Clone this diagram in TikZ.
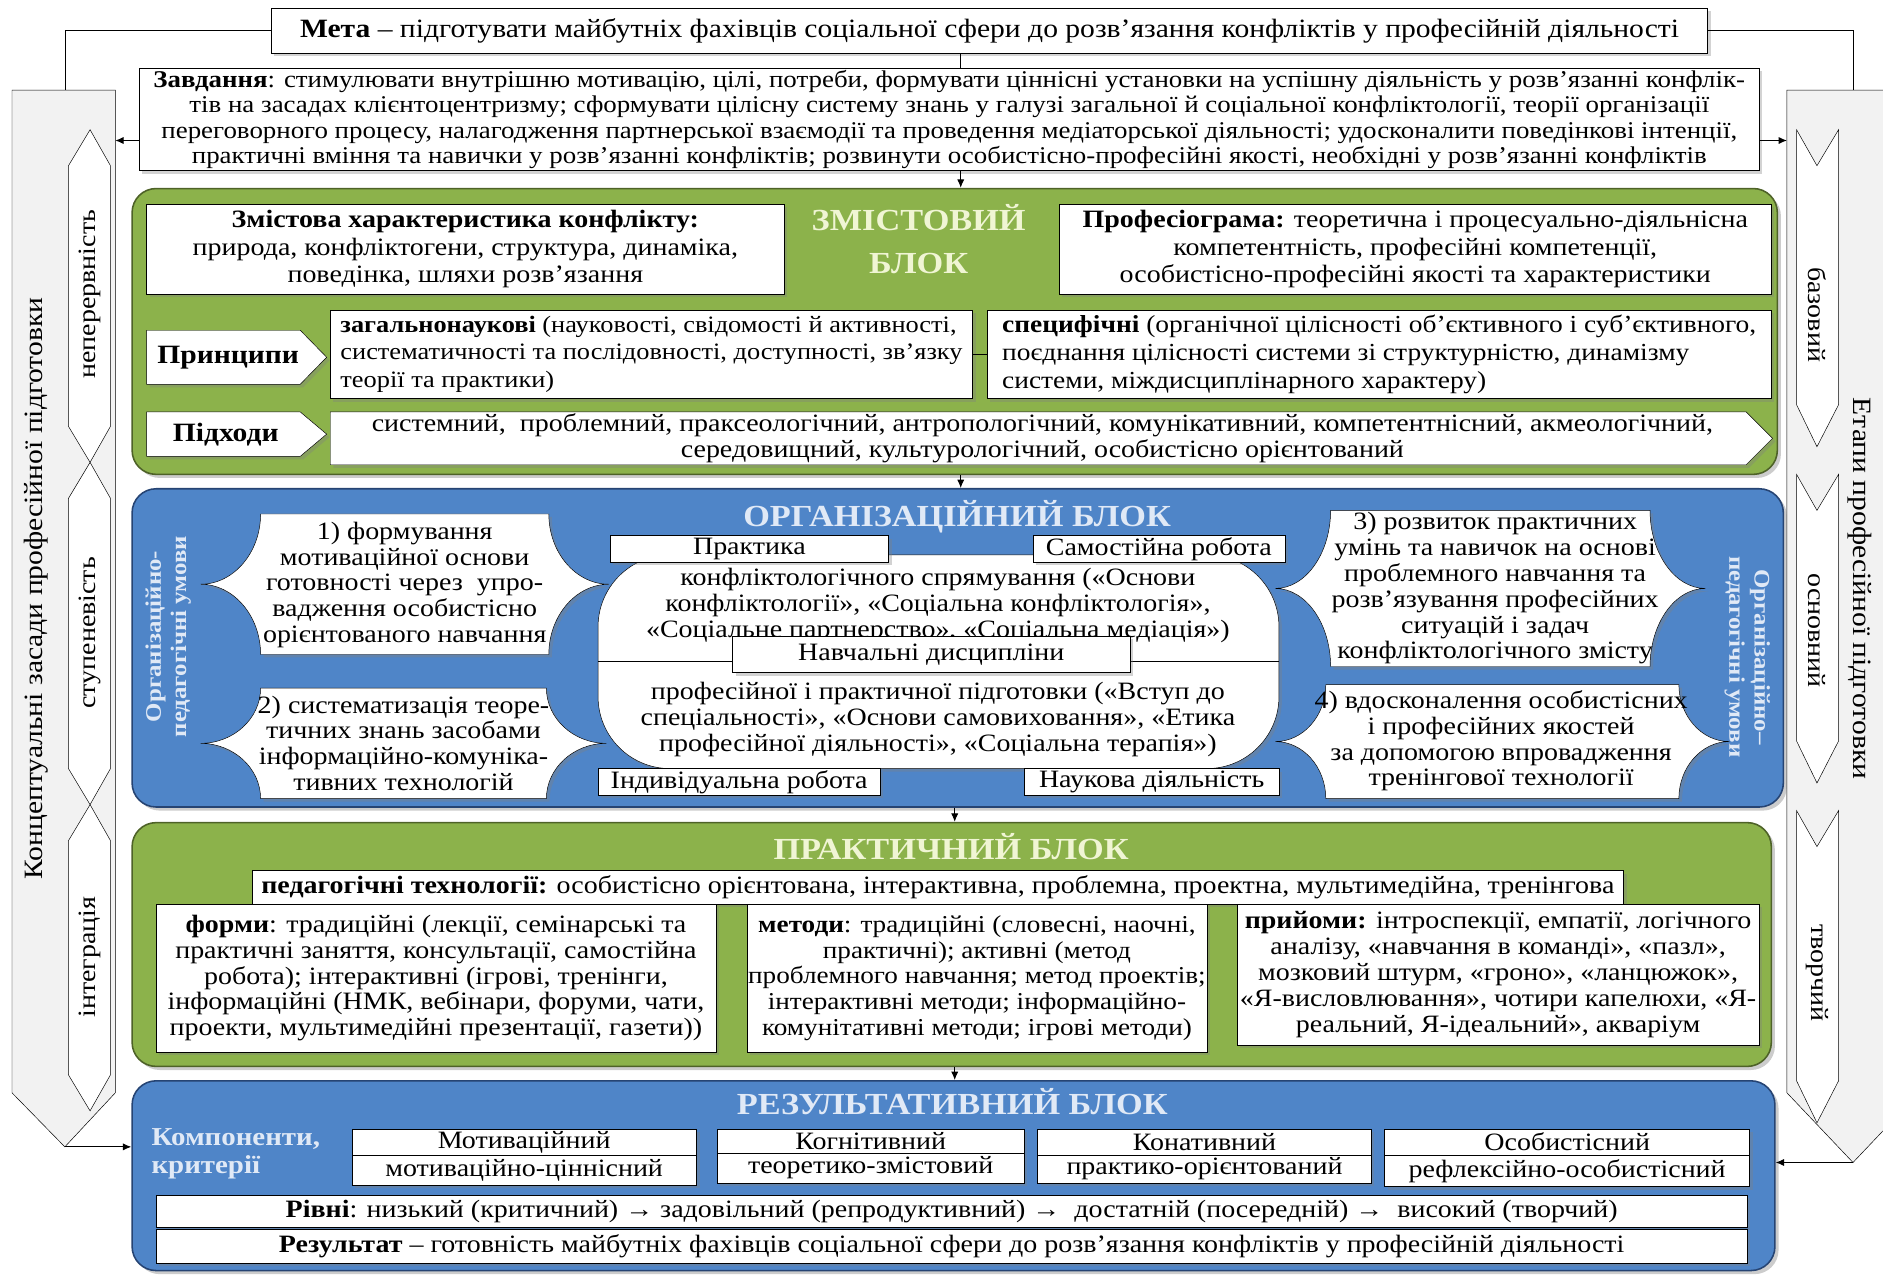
\documentclass[tikz,border=0pt]{standalone}
\usepackage{fontspec}
\setmainfont{Liberation Serif}[FakeStretch=1.12]
\usetikzlibrary{shadows,arrows.meta}

\definecolor{grblock}{RGB}{140,178,75}
\definecolor{grline}{RGB}{78,98,40}
\definecolor{blblock}{RGB}{79,133,200}
\definecolor{blline}{RGB}{38,68,115}
\definecolor{panel}{RGB}{242,242,242}
\definecolor{grtitle}{RGB}{240,245,212}
\definecolor{bltitle}{RGB}{224,233,246}

\begin{document}
\begin{tikzpicture}[x=1pt,y=-1pt,
	every node/.style={font=\fontsize{20.8}{21.5}\selectfont,inner sep=0pt},
	rect/.style n args={4}{at={({(#1+#3)/2},{(#2+#4)/2})},minimum width=#3-#1,minimum height=#4-#2},
	shd/.style={drop shadow={opacity=.35,shadow xshift=2.5pt,shadow yshift=-2.5pt}},
	box/.style={draw,fill=white,shd,align=center},
	lbox/.style={box,align=left},
	wide/.style={font=\fontsize{20.8}{23}\selectfont},
	block/.style={draw=#1line,fill=#1block,line width=1.3pt,rounded corners=20pt,
		drop shadow={opacity=.4,shadow xshift=3pt,shadow yshift=-3pt}},
	title/.style={font=\fontsize{25.5}{36}\selectfont\bfseries,text=#1title,align=center},
	hd/.style={font=\fontsize{22}{24}\selectfont\bfseries},
	cond/.style={font=\fontsize{18.5}{21}\selectfont\bfseries,text=bltitle,align=center},
	side/.style={font=\fontsize{22}{24}\selectfont},
	strip/.style={draw,fill=white},
	arr/.style={-{Latex[length=7pt,width=6pt]},thick}
]
	\useasboundingbox (0,0) rectangle (1568,1063);
	\clip (0,0) rectangle (1568,1063);

	\draw[fill=panel] (10,75) -- (96,75) -- (96,910) -- (54,955) -- (10,910) -- cycle;
	\draw[fill=panel] (1488,75) -- (1598,75) -- (1598,910) -- (1543,968) -- (1488,910) -- cycle;
	\foreach \ta/\tb in {108/385,385/670,670/925}
		\fill[white] (75,\ta) -- (92,\ta+30) -- (92,\tb-30) -- (75,\tb) -- (57,\tb-30) -- (57,\ta+30) -- cycle;
	\foreach \ta/\tb in {108/385,385/670,670/925}
		\draw (75,\ta) -- (92,\ta+30) -- (92,\tb-30) -- (75,\tb) -- (57,\tb-30) -- (57,\ta+30) -- cycle;
	\foreach \ta/\tb in {108/372,395/652,675/935}
		\draw[strip] (1496,\ta) -- (1513,\ta+30) -- (1531,\ta) -- (1531,\tb-35) -- (1513,\tb) -- (1496,\tb-35) -- cycle;

	\node[side,rotate=90] (kz) at (30,490) {Концептуальні засади професійної підготовки};
	\node[rotate=90] (sa) at (75,245) {неперервність};
	\node[rotate=90] (sb) at (75,527) {ступеневість};
	\node[rotate=90] (sc) at (75,797) {інтеграція};
	\node[side,rotate=-90] (ep) at (1549,490) {Етапи професійної підготовки};
	\node[rotate=-90] (ea) at (1513,262) {базовий};
	\node[rotate=-90] (eb) at (1513,525) {основний};
	\node[rotate=-90] (ec) at (1513,810) {творчий};

	\node[box,rect={226}{7}{1422}{44},font=\fontsize{22}{24}\selectfont] (meta) {\textbf{Мета} – підготувати майбутніх фахівців соціальної сфери до розв’язання конфліктів у професійній діяльності};
	\node[box,rect={116}{57}{1465}{142},font=\fontsize{20}{21}\selectfont] (zav) {\textbf{Завдання}: стимулювати внутрішню мотивацію, цілі, потреби, формувати ціннісні установки на успішну діяльність у розв’язанні конфлік-\\тів на засадах клієнтоцентризму; сформувати цілісну систему знань у галузі загальної й соціальної конфліктології, теорії організації\\переговорного процесу, налагодження партнерської взаємодії та проведення медіаторської діяльності; удосконалити поведінкові інтенції,\\практичні вміння та навички у розв’язанні конфліктів; розвинути особистісно-професійні якості, необхідні у розв’язанні конфліктів};

	\node[block=gr,rect={110}{157}{1480}{395}] (bz) {};
	\node[block=bl,rect={110}{407}{1485}{672}] (bo) {};
	\node[block=gr,rect={110}{685}{1475}{888}] (bp) {};
	\node[block=bl,rect={110}{900}{1478}{1058}] (br) {};

	\coordinate (ax) at (800,0);
	\coordinate (bx) at (795,0);
	\coordinate (lk) at (54,75);
	\coordinate (rk) at (1543,75);
	\coordinate (la) at (96,117);
	\coordinate (ra) at (1488,117);
	\coordinate (lb) at (54,955);
	\coordinate (rb) at (1543,968);
	\draw (meta.south -| ax) -- (zav.north -| ax);
	\draw (meta.west) -| (lk);
	\draw (meta.east) -| (rk);
	\draw[arr] (zav.west |- la) -- (la);
	\draw[arr] (zav.east |- ra) -- (ra);
	\draw[arr] (zav.south -| ax) -- (bz.north -| ax);
	\draw[arr] (bz.south -| ax) -- (bo.north -| ax);
	\draw[arr] (bo.south -| bx) -- (bp.north -| bx);
	\draw[arr] (bp.south -| bx) -- (br.north -| bx);
	\draw[arr] (lb) -- (lb -| br.west);
	\draw[arr] (rb) -- (rb -| br.east);

	\node[title=gr] (tz) at (765,199) {ЗМІСТОВИЙ\\БЛОК};
	\node[box,wide,rect={122}{170}{653}{245}] (zh) {\textbf{Змістова характеристика конфлікту:}\\природа, конфліктогени, структура, динаміка,\\поведінка, шляхи розв’язання};
	\node[box,wide,rect={882}{170}{1475}{245}] (pg) {\textbf{Професіограма:} теоретична і процесуально-діяльнісна\\компетентність, професійні компетенції,\\особистісно-професійні якості та характеристики};
	\path[box] (122,275) -- (250,275) -- (272,297.5) -- (250,320) -- (122,320) -- cycle;
	\node[hd] (pr) at (190,298) {Принципи};
	\node[lbox,rect={275}{258}{810}{332},font=\fontsize{19.6}{23}\selectfont] (zn) {\textbf{загальнонаукові} (науковості, свідомості й активності,\\систематичності та послідовності, доступності, зв’язку\\теорії та практики)};
	\node[lbox,rect={822}{258}{1475}{332},font=\fontsize{20.4}{23}\selectfont] (sp) {\textbf{специфічні} (органічної цілісності об’єктивного і суб’єктивного,\\поєднання цілісності системи зі структурністю, динамізму\\системи, міждисциплінарного характеру)};
	\draw (zn) -- (sp);
	\path[box] (122,343) -- (250,343) -- (272,361.5) -- (250,380) -- (122,380) -- cycle;
	\node[hd] (pd) at (188,362) {Підходи};
	\path[box] (275,343) -- (1454,343) -- (1476,365) -- (1454,387) -- (275,387) -- cycle;
	\node[align=center] (ph) at (868,365) {системний,\ \ проблемний, праксеологічний, антропологічний, комунікативний, компетентнісний, акмеологічний,\\середовищний, культурологічний, особистісно орієнтований};

	\node[title=bl] (to) at (797,430) {ОРГАНІЗАЦІЙНИЙ БЛОК};
	\node[cond,rotate=90] (ul) at (140,530) {Організаційно-\\педагогічні умови};
	\node[cond,rotate=-90] (ur) at (1455,547) {Організаційно–\\педагогічні умови};
	\foreach \xa/\ya/\xb/\yb/\rr in {167/428/507/545/50,167/573/505/665/50,1062/425/1420/555/46,1062/570/1440/665/42}{
		\pgfmathsetmacro\ym{(\ya+\yb)/2}
		\pgfmathsetmacro\hh{(\yb-\ya)/2}
		\path[box] (\xa+\rr,\ya) -- (\xb-\rr,\ya) .. controls (\xb-\rr,\ya+0.55*\hh) and (\xb-0.55*\rr,\ym) .. (\xb,\ym)
			.. controls (\xb-0.55*\rr,\ym) and (\xb-\rr,\yb-0.55*\hh) .. (\xb-\rr,\yb) -- (\xa+\rr,\yb)
			.. controls (\xa+\rr,\yb-0.55*\hh) and (\xa+0.55*\rr,\ym) .. (\xa,\ym)
			.. controls (\xa+0.55*\rr,\ym) and (\xa+\rr,\ya+0.55*\hh) .. (\xa+\rr,\ya) -- cycle;
	}
	\node[align=center] (u1) at (337,487) {1) формування\\мотиваційної основи\\готовності через\ \ упро-\\вадження особистісно\\орієнтованого навчання};
	\node[align=center] (u2) at (336,619) {2) систематизація теоре-\\тичних знань засобами\\інформаційно-комуніка-\\тивних технологій};
	\node[align=center] (u3) at (1245,490) {3) розвиток практичних\\умінь та навичок на основі\\проблемного навчання та\\розв’язування професійних\\ситуацій і задач\\конфліктологічного змісту};
	\node[align=center] (u4) at (1250,617) {4) вдосконалення особистісних\\і професійних якостей\\за допомогою впровадження\\тренінгової технології};
	\node[draw,fill=white,rounded corners=60pt,shd,rect={498}{462}{1065}{640}] (nd) {};
	\draw (nd.west) -- (nd.east);
	\node[align=center] (nu) at (781,504) {конфліктологічного спрямування («Основи\\конфліктології», «Соціальна конфліктологія»,\\«Соціальне партнерство», «Соціальна медіація»)};
	\node[align=center] (nl) at (781,599) {професійної і практичної підготовки («Вступ до\\спеціальності», «Основи самовиховання», «Етика\\професійної діяльності», «Соціальна терапія»)};
	\node[box,rect={508}{446}{740}{468}] (pk) {Практика};
	\node[box,rect={860}{446}{1070}{468}] (sr) {Самостійна робота};
	\node[box,rect={610}{530}{941}{560}] (nv) {Навчальні дисципліни};
	\node[box,rect={498}{640}{733}{662}] (ir) {Індивідуальна робота};
	\node[box,rect={853}{640}{1065}{662}] (nk) {Наукова діяльність};

	\node[title=gr] (tp) at (792,705) {ПРАКТИЧНИЙ БЛОК};
	\node[box,rect={210}{725}{1352}{753}] (pt) {\textbf{педагогічні технології:} особистісно орієнтована, інтерактивна, проблемна, проектна, мультимедійна, тренінгова};
	\node[box,rect={130}{753}{596}{876}] (fm) {\textbf{форми}: традиційні (лекції, семінарські та\\практичні заняття, консультації, самостійна\\робота); інтерактивні (ігрові, тренінги,\\інформаційні (НМК, вебінари, форуми, чати,\\проекти, мультимедійні презентації, газети))};
	\node[box,rect={622}{753}{1005}{876},font=\fontsize{20.2}{21.5}\selectfont] (mt) {\textbf{методи}: традиційні (словесні, наочні,\\практичні); активні (метод\\проблемного навчання; метод проектів;\\інтерактивні методи; інформаційно-\\комунітативні методи; ігрові методи)};
	\node[box,rect={1030}{753}{1465}{870}] (pm) {\textbf{прийоми:} інтроспекції, емпатії, логічного\\аналізу, «навчання в команді», «пазл»,\\мозковий штурм, «гроно», «ланцюжок»,\\«Я-висловлювання», чотири капелюхи, «Я-\\реальний, Я-ідеальний», акваріум};

	\node[title=bl] (tr) at (793,917) {РЕЗУЛЬТАТИВНИЙ БЛОК};
	\node[font=\fontsize{21.5}{23}\selectfont\bfseries,text=bltitle,align=left,anchor=west] (kk) at (126,961) {Компоненти,\\критерії};
	\node[box,rect={293}{940}{580}{962}] (m1) {Мотиваційний};
	\node[box,rect={293}{962}{580}{987}] (m2) {мотиваційно-ціннісний};
	\node[box,rect={597}{940}{853}{960}] (k1) {Когнітивний};
	\node[box,rect={597}{960}{853}{985}] (k2) {теоретико-змістовий};
	\node[box,rect={864}{940}{1142}{962}] (n1) {Конативний};
	\node[box,rect={864}{962}{1142}{985}] (n2) {практико-орієнтований};
	\node[box,rect={1153}{940}{1457}{962}] (o1) {Особистісний};
	\node[box,rect={1153}{962}{1457}{988}] (o2) {рефлексійно-особистісний};
	\node[box,rect={130}{995}{1455}{1022}] (rv) {\textbf{Рівні}: низький (критичний) → задовільний (репродуктивний) →\ \ достатній (посередній) →\ \ високий (творчий)};
	\node[box,rect={130}{1024}{1455}{1052}] (rz) {\textbf{Результат} – готовність майбутніх фахівців соціальної сфери до розв’язання конфліктів у професійній діяльності};
\end{tikzpicture}
\end{document}
